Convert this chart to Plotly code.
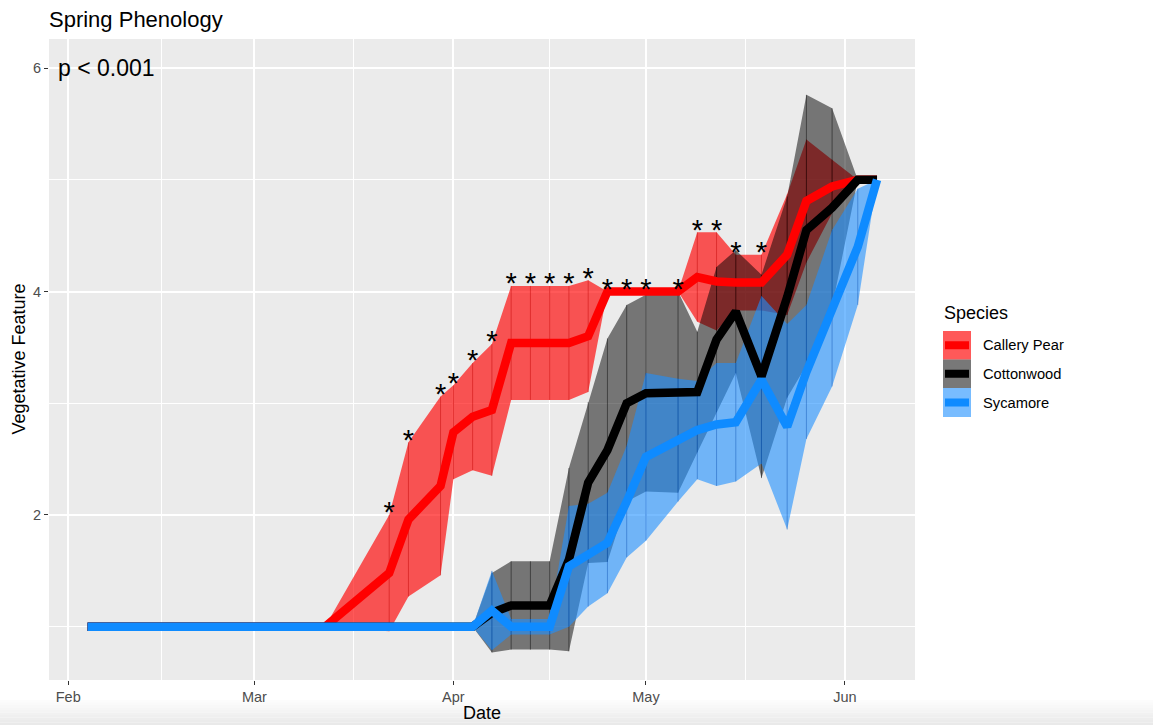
import plotly.graph_objects as go

# Observation dates (2020 season)
dates = ["2020-02-04", "2020-03-12", "2020-03-22", "2020-03-25", "2020-03-30",
         "2020-04-01", "2020-04-04", "2020-04-07", "2020-04-10", "2020-04-13",
         "2020-04-16", "2020-04-19", "2020-04-22", "2020-04-25", "2020-04-28",
         "2020-05-01", "2020-05-06", "2020-05-09", "2020-05-12", "2020-05-15",
         "2020-05-19", "2020-05-23", "2020-05-26", "2020-05-30", "2020-06-03",
         "2020-06-06"]

# Mean vegetative stage and half-width of the interval, per species
pear_mean = [1.00, 1.00, 1.48, 1.96, 2.26, 2.74, 2.88, 2.94, 3.54, 3.54,
             3.54, 3.54, 3.60, 4.00, 4.00, 4.00, 4.00, 4.13, 4.09, 4.08,
             4.08, 4.33, 4.81, 4.94, 5.00, 5.00]
pear_ci = [0.00, 0.00, 0.52, 0.69, 0.80, 0.42, 0.48, 0.59, 0.51, 0.51,
           0.51, 0.51, 0.50, 0.00, 0.00, 0.00, 0.00, 0.40, 0.44, 0.25,
           0.25, 0.54, 0.55, 0.24, 0.00, 0.00]

cotton_mean = [1.00, 1.00, 1.00, 1.00, 1.00, 1.00, 1.00, 1.125, 1.19, 1.19,
               1.19, 1.60, 2.29, 2.58, 3.00, 3.09, 3.10, 3.10, 3.57, 3.82,
               3.24, 3.95, 4.55, 4.75, 5.00, 5.00]
cotton_ci = [0.00, 0.00, 0.00, 0.00, 0.00, 0.00, 0.00, 0.355, 0.395, 0.395,
             0.395, 0.82, 0.72, 1.00, 0.88, 0.88, 0.90, 0.54, 0.65, 0.55,
             0.91, 0.90, 1.21, 0.89, 0.00, 0.00]

syc_mean = [1.00, 1.00, 1.00, 1.00, 1.00, 1.00, 1.00, 1.145, 1.00, 1.00,
            1.00, 1.54, 1.64, 1.75, 2.12, 2.52, 2.67, 2.76, 2.81, 2.83,
            3.21, 2.79, 3.28, 3.85, 4.40, 5.00]
syc_ci = [0.00, 0.00, 0.00, 0.00, 0.00, 0.00, 0.00, 0.355, 0.07, 0.07,
          0.07, 0.54, 0.46, 0.45, 0.50, 0.75, 0.55, 0.44, 0.55, 0.53,
          0.75, 0.92, 0.60, 0.70, 0.52, 0.00]

# Dates where Callery Pear differs significantly
pear_signif = [0, 0, 1, 1, 1, 1, 1, 1, 1, 1,
               1, 1, 1, 1, 1, 1, 1, 1, 1, 1,
               1, 0, 0, 0, 0, 0]

species = ["Callery Pear", "Cottonwood", "Sycamore"]
month_ticks = ["2020-02-01", "2020-03-01", "2020-04-01", "2020-05-01", "2020-06-01"]
month_labels = ["Feb", "Mar", "Apr", "May", "Jun"]
y_ticks = [2, 4, 6]

series = [
    dict(mean=pear_mean, ci=pear_ci, line="#FF0000",
         fill="rgba(255,0,0,0.65)", seam="rgba(190,0,0,0.45)"),
    dict(mean=cotton_mean, ci=cotton_ci, line="#000000",
         fill="rgba(0,0,0,0.5)", seam="rgba(0,0,0,0.45)"),
    dict(mean=syc_mean, ci=syc_ci, line="#0F8BFF",
         fill="rgba(30,144,255,0.6)", seam="rgba(0,70,170,0.4)"),
]

FONT = "Liberation Sans, Arial, Helvetica, sans-serif"

fig = go.Figure()

# Ribbons first (mean +/- interval)
for s in series:
    hi = [m + c for m, c in zip(s["mean"], s["ci"])]
    lo = [m - c for m, c in zip(s["mean"], s["ci"])]
    s["hi"], s["lo"] = hi, lo
    fig.add_trace(go.Scatter(
        x=dates + dates[::-1], y=hi + lo[::-1], fill="toself",
        fillcolor=s["fill"], line=dict(width=0), mode="lines",
        hoverinfo="skip", showlegend=False))
    # faint seams where ribbon pieces join
    sx, sy = [], []
    for d, a, b, c in zip(dates, lo, hi, s["ci"]):
        if c > 0:
            sx += [d, d, None]
            sy += [a, b, None]
    fig.add_trace(go.Scatter(x=sx, y=sy, mode="lines",
                             line=dict(color=s["seam"], width=1),
                             hoverinfo="skip", showlegend=False))

# Mean lines on top
for s, name in zip(series, species):
    fig.add_trace(go.Scatter(x=dates, y=s["mean"], mode="lines", name=name,
                             line=dict(color=s["line"], width=8.5),
                             showlegend=False))

# Significance stars above the Callery Pear ribbon
star_x = [d for d, f in zip(dates, pear_signif) if f]
star_y = [h for h, f in zip(series[0]["hi"], pear_signif) if f]
fig.add_trace(go.Scatter(x=star_x, y=star_y, mode="text", text=["*"] * len(star_x),
                         textposition="middle center",
                         textfont=dict(family=FONT, size=29, color="black"),
                         hoverinfo="skip", showlegend=False))

# p-value label
fig.add_annotation(x="2020-02-07", y=6, text="p < 0.001", showarrow=False,
                   xanchor="center", yanchor="middle",
                   font=dict(family=FONT, size=23, color="black"))

# Plot area geometry in pixels
L, R, T, B = 49, 915, 39, 680
W, H = 1153, 725


def px(x):
    return (x - L) / (R - L)


def py(y):
    return (B - y) / (B - T)


shapes = []
# Legend keys
legend_rows = [(331, 359.5), (359.5, 388), (388, 417)]
key_fill = ["rgba(255,0,0,0.65)", "rgba(0,0,0,0.53)", "rgba(30,144,255,0.6)"]
for (y0, y1), s, kf, name in zip(legend_rows, series, key_fill, species):
    shapes.append(dict(type="rect", xref="paper", yref="paper",
                       x0=px(943), x1=px(971), y0=py(y1), y1=py(y0),
                       fillcolor=kf, line=dict(width=0)))
    yc = (y0 + y1) / 2
    shapes.append(dict(type="line", xref="paper", yref="paper",
                       x0=px(945), x1=px(969), y0=py(yc), y1=py(yc),
                       line=dict(color=s["line"], width=8)))
    fig.add_annotation(xref="paper", yref="paper", x=px(981), y=py(yc),
                       text=name, showarrow=False, xanchor="left", yanchor="middle",
                       font=dict(family=FONT, size=14.7, color="black"))

fig.add_annotation(xref="paper", yref="paper", x=px(942), y=py(312.5),
                   text="Species", showarrow=False, xanchor="left", yanchor="middle",
                   font=dict(family=FONT, size=18, color="black"))

# Axis titles
fig.add_annotation(xref="paper", yref="paper", x=0.5, y=py(713),
                   text="Date", showarrow=False, xanchor="center", yanchor="middle",
                   font=dict(family=FONT, size=18, color="black"))
fig.add_annotation(xref="paper", yref="paper", x=px(18), y=0.5, textangle=-90,
                   text="Vegetative Feature", showarrow=False,
                   xanchor="center", yanchor="middle",
                   font=dict(family=FONT, size=18, color="black"))

# Soft shading along the bottom edge of the page
band_top, band_bot, n_bands = 700, 725, 10
for i in range(n_bands):
    y0 = band_top + (band_bot - band_top) * i / n_bands
    y1 = band_top + (band_bot - band_top) * (i + 1) / n_bands
    g = int(255 - 22 * (i + 1) / n_bands)
    shapes.append(dict(type="rect", xref="paper", yref="paper", layer="below",
                       x0=px(0), x1=px(W), y0=py(y1), y1=py(y0),
                       fillcolor=f"rgb({g},{g},{g})", line=dict(width=0)))

fig.update_layout(
    width=W, height=H,
    margin=dict(l=L, r=W - R, t=T, b=H - B, autoexpand=False),
    paper_bgcolor="white", plot_bgcolor="#EBEBEB",
    font=dict(family=FONT),
    title=dict(text="Spring Phenology", x=px(49), xref="paper", xanchor="left",
               y=1 - 19 / H, yref="container", yanchor="middle",
               font=dict(family=FONT, size=22, color="black")),
    shapes=shapes,
    showlegend=False,
)

fig.update_xaxes(
    type="date", range=["2020-01-29", "2020-06-11 22:00"],
    tickvals=month_ticks, ticktext=month_labels,
    ticks="outside", ticklen=4, tickwidth=1.2, tickcolor="#333333",
    tickfont=dict(family=FONT, size=14.5, color="#4D4D4D"),
    showgrid=True, gridcolor="white", gridwidth=1.7,
    minor=dict(tickvals=["2020-02-15 12:00", "2020-03-16 12:00",
                         "2020-04-16", "2020-05-16 12:00"],
               showgrid=True, gridcolor="white", gridwidth=0.8, ticklen=0),
    zeroline=False, showline=False, automargin=False,
)
fig.update_yaxes(
    range=[0.523, 6.26], tickvals=y_ticks,
    ticks="outside", ticklen=4, tickwidth=1.2, tickcolor="#333333",
    tickfont=dict(family=FONT, size=14.5, color="#4D4D4D"),
    showgrid=True, gridcolor="white", gridwidth=1.7,
    minor=dict(tickvals=[1, 3, 5], showgrid=True, gridcolor="white",
               gridwidth=0.8, ticklen=0),
    zeroline=False, showline=False, automargin=False,
)

fig.write_html("out.html")
